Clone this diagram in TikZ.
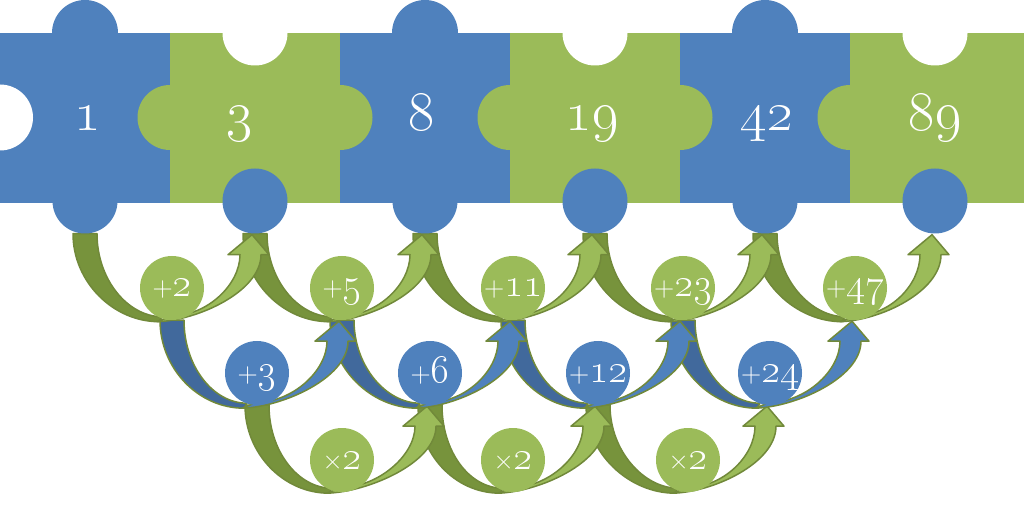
\RequirePackage{fix-cm}
\documentclass[tikz,border=0pt]{standalone}
\usepackage{tikz}
\usetikzlibrary{calc}
\definecolor{pblue}{HTML}{4F81BD}
\definecolor{pgreen}{HTML}{9BBB59}
\definecolor{dblue}{HTML}{41699C}
\definecolor{dgreen}{HTML}{77933C}
\definecolor{rim}{HTML}{71893A}
\tikzset{knob/.style={circle, fill=pblue, minimum size=65pt, inner sep=0pt}}
\tikzset{piecenum/.style={text=white, anchor=base, font=\fontsize{56}{60}\selectfont}}
\tikzset{opgreen/.style={circle, fill=pgreen, text=white, minimum size=64pt, inner sep=0pt,
    text height=20pt, text depth=2pt, font=\fontsize{40}{44}\selectfont}}
\tikzset{opblue/.style={opgreen, fill=pblue}}
\tikzset{arrowpart/.style={draw=rim, line width=1.5pt, line join=round}}
\pgfdeclarelayer{back}
\pgfsetlayers{back,main}

% operator sign and old style digits
\newcommand{\opnum}[2]{{\fontsize{28}{30}\selectfont #1}\oldstylenums{#2}}

% curved arrow: from, label, to, back colour, front colour
\newcommand{\oparrow}[5]{%
  \fill[arrowpart, fill=#4] let \p1=(#1.south), \p3=(#2.south) in
    (\x1-12pt,\y1) .. controls (\x1-12pt,\y1-48pt) and (\x3-59pt,\y1-88pt)
    .. (\x3-13pt,\y1-88pt) -- (\x3-10pt,\y1-83pt)
    .. controls (\x3-44pt,\y1-83pt) and (\x1+12pt,\y1-46pt) .. (\x1+12pt,\y1) -- cycle;
  \fill[arrowpart, fill=#5] let \p1=(#1.south), \p2=(#3.south), \p3=(#2.south) in
    (\x3-15pt,\y1-88pt) .. controls (\x3+25pt,\y1-87pt) and (\x2+6pt,\y2-58pt)
    .. (\x2+6pt,\y2-21pt) -- (\x2+14pt,\y2-21pt) -- (\x2-3pt,\y2-1pt)
    -- (\x2-27pt,\y2-21pt) -- (\x2-15pt,\y2-21pt)
    .. controls (\x2-15pt,\y2-51pt) and (\x3+35pt,\y1-82pt) .. (\x3,\y1-82pt) -- cycle;
}

\begin{document}
\begin{tikzpicture}[x=1pt, y=1pt]
    \useasboundingbox (0,0) rectangle (1024,506);

    % The puzzle pieces.
    \fill[pblue] (0,303) rectangle (170,473);
    \fill[pgreen] (170,303) rectangle (340,473);
    \fill[pblue] (340,303) rectangle (510,473);
    \fill[pgreen] (510,303) rectangle (680,473);
    \fill[pblue] (680,303) rectangle (850,473);
    \fill[pgreen] (850,303) rectangle (1024,473);

    \fill[pblue] (85,473) circle (33pt);
    \fill[pblue] (425,473) circle (33pt);
    \fill[pblue] (765,473) circle (33pt);
    \fill[white] (255,473) circle (32.5pt);
    \fill[white] (595,473) circle (32.5pt);
    \fill[white] (935,473) circle (32.5pt);

    \fill[white] (0,388.5) circle (33pt);
    \fill[pgreen] (170,388.5) circle (32.5pt);
    \fill[pgreen] (340,388.5) circle (32.5pt);
    \fill[pgreen] (510,388.5) circle (32.5pt);
    \fill[pgreen] (680,388.5) circle (32.5pt);
    \fill[pgreen] (850,388.5) circle (32.5pt);

    \node [knob] (k1) at (85,305) {};
    \node [knob] (k2) at (255,305) {};
    \node [knob] (k3) at (425,305) {};
    \node [knob] (k4) at (595,305) {};
    \node [knob] (k5) at (765,305) {};
    \node [knob] (k6) at (935,305) {};

    \node [piecenum] (n1) at (88,375) {\oldstylenums{1}};
    \node [piecenum] (n2) at (240,375) {\oldstylenums{3}};
    \node [piecenum] (n3) at (422,375) {\oldstylenums{8}};
    \node [piecenum] (n4) at (592,375) {\oldstylenums{19}};
    \node [piecenum] (n5) at (767,375) {\oldstylenums{42}};
    \node [piecenum] (n6) at (935,375) {\oldstylenums{89}};

    % The differences.
    \node [opgreen] (a1) at (172,218) {\opnum{+}{2}};
    \node [opgreen] (a2) at (342,218) {\opnum{+}{5}};
    \node [opgreen] (a3) at (513,218) {\opnum{+}{11}};
    \node [opgreen] (a4) at (683,218) {\opnum{+}{23}};
    \node [opgreen] (a5) at (855,218) {\opnum{+}{47}};

    \node [opblue] (b1) at (257,133) {\opnum{+}{3}};
    \node [opblue] (b2) at (430,133) {\opnum{+}{6}};
    \node [opblue] (b3) at (598,133) {\opnum{+}{12}};
    \node [opblue] (b4) at (770,133) {\opnum{+}{24}};

    \node [opgreen] (c1) at (342,46) {\opnum{×}{2}};
    \node [opgreen] (c2) at (513,46) {\opnum{×}{2}};
    \node [opgreen] (c3) at (688,46) {\opnum{×}{2}};

    % The arrows, behind everything else.
    \begin{pgfonlayer}{back}
        \oparrow{b3}{c3}{b4}{dgreen}{pgreen}
        \oparrow{b2}{c2}{b3}{dgreen}{pgreen}
        \oparrow{b1}{c1}{b2}{dgreen}{pgreen}

        \oparrow{a4}{b4}{a5}{dblue}{pblue}
        \oparrow{a3}{b3}{a4}{dblue}{pblue}
        \oparrow{a2}{b2}{a3}{dblue}{pblue}
        \oparrow{a1}{b1}{a2}{dblue}{pblue}

        \oparrow{k5}{a5}{k6}{dgreen}{pgreen}
        \oparrow{k4}{a4}{k5}{dgreen}{pgreen}
        \oparrow{k3}{a3}{k4}{dgreen}{pgreen}
        \oparrow{k2}{a2}{k3}{dgreen}{pgreen}
        \oparrow{k1}{a1}{k2}{dgreen}{pgreen}
    \end{pgfonlayer}

\end{tikzpicture}
\end{document}
